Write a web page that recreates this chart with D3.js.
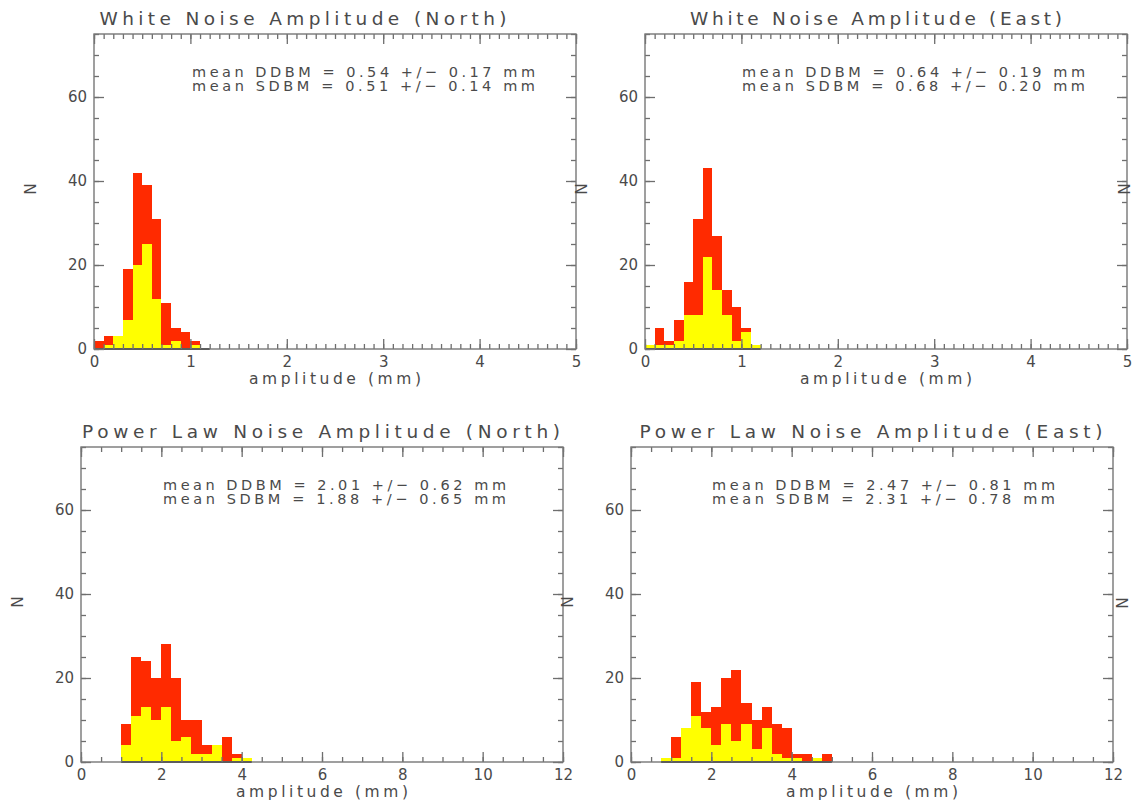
<!DOCTYPE html>
<meta charset="utf-8">
<script src="https://d3js.org/d3.v7.min.js"></script>
<style>
body { margin:0; background:#fff; }
svg { display:block; }
text { font-family: "DejaVu Sans", sans-serif; fill:#4a4a4a; }
.frame { fill:none; stroke:#777; stroke-width:1.4px; }
.axis path { display:none; }
.axis line { stroke:#6e6e6e; stroke-width:1.3px; }
.axis text { font-size:15px; fill:#4a4a4a; font-family: "DejaVu Sans", sans-serif; }
.title { font-size:18.5px; }
.note { font-size:14.5px; }
.xlabel { font-size:15.5px; }
.bar { shape-rendering: crispEdges; }
.zero { stroke:#222; stroke-width:2px; }
</style>
<body></body>
<script>

// titles and annotations
var titles = [
  'White Noise Amplitude (North)',
  'White Noise Amplitude (East)',
  'Power Law Noise Amplitude (North)',
  'Power Law Noise Amplitude (East)'
];
var notesDDBM = [
  'mean DDBM = 0.54 +/\u2212 0.17 mm',
  'mean DDBM = 0.64 +/\u2212 0.19 mm',
  'mean DDBM = 2.01 +/\u2212 0.62 mm',
  'mean DDBM = 2.47 +/\u2212 0.81 mm'
];
var notesSDBM = [
  'mean SDBM = 0.51 +/\u2212 0.14 mm',
  'mean SDBM = 0.68 +/\u2212 0.20 mm',
  'mean SDBM = 1.88 +/\u2212 0.65 mm',
  'mean SDBM = 2.31 +/\u2212 0.78 mm'
];

// histogram bins (start at 0)
var wnBinWidth = 0.1;
var plBinWidth = 0.25;

// counts per bin: red = DDBM, yellow = SDBM
var wnNorthRed    = [2, 3, 3, 19, 42, 39, 31, 11, 5, 4, 2, 0];
var wnNorthYellow = [0, 1, 3, 7, 20, 25, 12, 1, 2, 0, 1, 0];
var wnEastRed     = [1, 5, 2, 7, 16, 31, 43, 27, 14, 10, 5, 1];
var wnEastYellow  = [1, 1, 1, 2, 8, 8, 22, 14, 8, 2, 4, 1];
var plNorthRed    = [0, 0, 0, 0, 9, 25, 24, 20, 28, 20, 10, 10, 4, 4, 6, 2, 1];
var plNorthYellow = [0, 0, 0, 0, 4, 11, 13, 10, 13, 5, 6, 2, 2, 4, 0, 1, 1];
var plEastRed     = [0, 0, 0, 1, 6, 8, 19, 12, 13, 20, 22, 14, 10, 13, 9, 8, 2, 2, 1, 2];
var plEastYellow  = [0, 0, 0, 1, 1, 8, 11, 8, 4, 9, 5, 9, 3, 8, 2, 1, 1, 0, 1, 0];

// axis tick values
var wnXTicks = [0, 1, 2, 3, 4, 5];
var plXTicks = [0, 2, 4, 6, 8, 10, 12];
var yTicks = [0, 20, 40, 60];

var W = 482, H = 315;

var panels = [
  {left: 94,  top: 34,  xmax: 5,  bw: wnBinWidth, red: wnNorthRed, yellow: wnNorthYellow, xt: wnXTicks, minor: 0.1, titleX: 209, titleW: 407, noteX: 98},
  {left: 645, top: 34,  xmax: 5,  bw: wnBinWidth, red: wnEastRed,  yellow: wnEastYellow,  xt: wnXTicks, minor: 0.1, titleX: 231, titleW: 372, noteX: 97},
  {left: 81,  top: 447, xmax: 12, bw: plBinWidth, red: plNorthRed, yellow: plNorthYellow, xt: plXTicks, minor: 0.5, titleX: 240, titleW: 478, noteX: 82},
  {left: 631, top: 447, xmax: 12, bw: plBinWidth, red: plEastRed,  yellow: plEastYellow,  xt: plXTicks, minor: 0.5, titleX: 240, titleW: 463, noteX: 81}
];

var svg = d3.select('body').append('svg')
  .attr('width', 1134)
  .attr('height', 800);

panels.forEach(function(p, i) {
  var g = svg.append('g').attr('transform', 'translate(' + p.left + ',' + p.top + ')');

  var x = d3.scaleLinear().domain([0, p.xmax]).range([0, W]);
  var y = d3.scaleLinear().domain([0, 75]).range([H, 0]);

  // red bars first, yellow on top
  [[p.red, '#ff2a00'], [p.yellow, '#ffff00']].forEach(function(s) {
    g.selectAll(null)
      .data(s[0].map(function(c, k) { return {x0: k * p.bw, c: c}; }).filter(function(d) { return d.c > 0; }))
      .enter().append('rect')
      .attr('class', 'bar')
      .attr('x', function(d) { return x(d.x0); })
      .attr('width', function(d) { return x(d.x0 + p.bw) - x(d.x0); })
      .attr('y', function(d) { return y(d.c); })
      .attr('height', function(d) { return y(0) - y(d.c); })
      .style('fill', s[1]);
  });

  // dark zero line under the histogram span
  var first = p.red.findIndex(function(c) { return c > 0; });
  g.append('line').attr('class', 'zero')
    .attr('x1', x(first * p.bw)).attr('x2', x(p.red.length * p.bw))
    .attr('y1', y(0)).attr('y2', y(0));

  var minorX = d3.range(0, p.xmax + 1e-6, p.minor);
  var minorY = d3.range(0, 75.1, 5);

  g.append('g').attr('class', 'axis')
    .attr('transform', 'translate(0,' + H + ')')
    .call(d3.axisBottom(x).tickValues(minorX).tickSize(-5).tickFormat(''));
  g.append('g').attr('class', 'axis')
    .attr('transform', 'translate(0,' + H + ')')
    .call(d3.axisBottom(x).tickValues(p.xt).tickSize(-10).tickPadding(7).tickFormat(d3.format('d')));
  g.append('g').attr('class', 'axis')
    .call(d3.axisTop(x).tickValues(minorX).tickSize(-5).tickFormat(''));
  g.append('g').attr('class', 'axis')
    .call(d3.axisTop(x).tickValues(p.xt).tickSize(-10).tickFormat(''));

  g.append('g').attr('class', 'axis')
    .call(d3.axisLeft(y).tickValues(minorY).tickSize(-5).tickFormat(''));
  g.append('g').attr('class', 'axis')
    .call(d3.axisLeft(y).tickValues(yTicks).tickSize(-10).tickPadding(7));
  g.append('g').attr('class', 'axis')
    .attr('transform', 'translate(' + W + ',0)')
    .call(d3.axisRight(y).tickValues(minorY).tickSize(-5).tickFormat(''));
  g.append('g').attr('class', 'axis')
    .attr('transform', 'translate(' + W + ',0)')
    .call(d3.axisRight(y).tickValues(yTicks).tickSize(-10).tickFormat(''));

  g.append('rect').attr('class', 'frame')
    .attr('width', W).attr('height', H);

  g.append('text').attr('class', 'title')
    .attr('x', p.titleX).attr('y', -9)
    .attr('text-anchor', 'middle')
    .attr('textLength', p.titleW).attr('lengthAdjust', 'spacing')
    .text(titles[i]);

  g.append('text').attr('class', 'note')
    .attr('x', p.noteX).attr('y', 43)
    .attr('textLength', 343).attr('lengthAdjust', 'spacing')
    .text(notesDDBM[i]);
  g.append('text').attr('class', 'note')
    .attr('x', p.noteX).attr('y', 57)
    .attr('textLength', 343).attr('lengthAdjust', 'spacing')
    .text(notesSDBM[i]);

  g.append('text').attr('class', 'xlabel')
    .attr('x', W / 2).attr('y', H + 35)
    .attr('text-anchor', 'middle')
    .attr('textLength', 172).attr('lengthAdjust', 'spacing')
    .text('amplitude (mm)');

  g.append('text').attr('class', 'xlabel')
    .attr('transform', 'translate(' + (-58) + ',' + 155 + ') rotate(-90)')
    .attr('text-anchor', 'middle')
    .text('N');
});

// y labels of the neighbouring (cut off) panels on the right
svg.append('text').attr('class', 'xlabel')
  .attr('transform', 'translate(1130,189) rotate(-90)')
  .attr('text-anchor', 'middle').text('N');
svg.append('text').attr('class', 'xlabel')
  .attr('transform', 'translate(1128,603) rotate(-90)')
  .attr('text-anchor', 'middle').text('N');

</script>
